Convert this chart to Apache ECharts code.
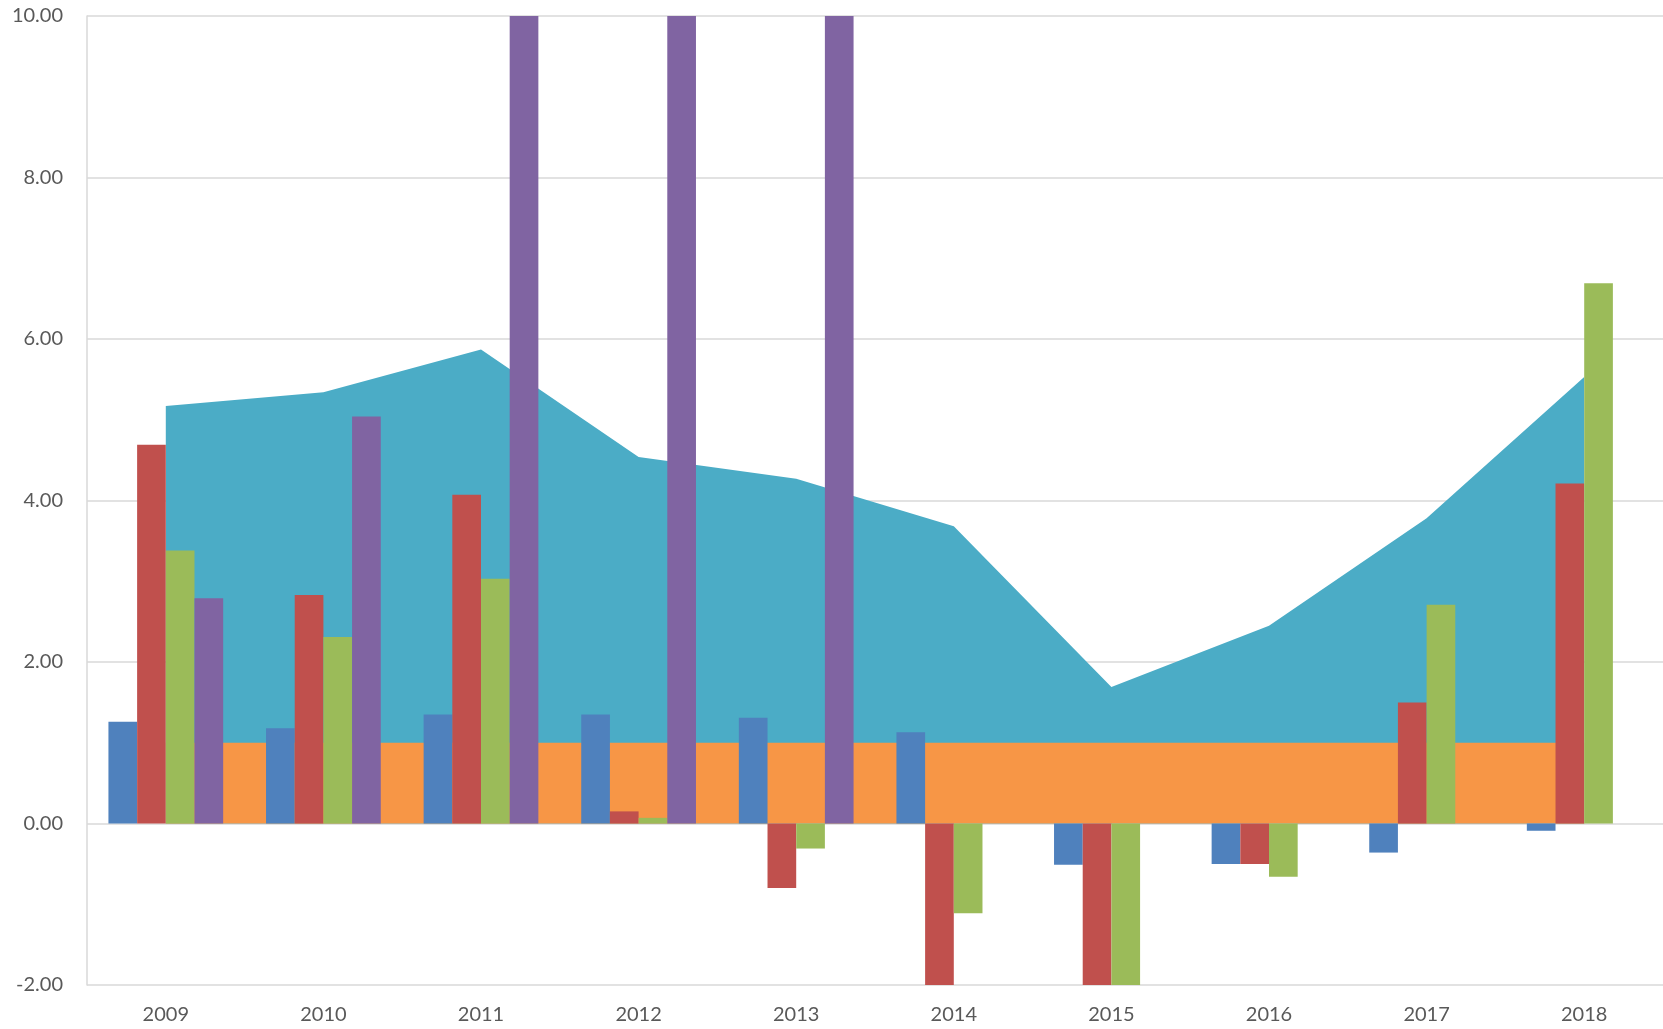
<!DOCTYPE html>
<html>
<head>
<meta charset="utf-8">
<script src="https://cdn.jsdelivr.net/npm/echarts@6/dist/echarts.min.js"></script>
<style>
html,body{margin:0;padding:0;background:#fff;}
#chart{width:1663px;height:1029px;}
</style>
</head>
<body>
<div id="chart"></div>
<script>
var years = ['2009','2010','2011','2012','2013','2014','2015','2016','2017','2018'];
var blueVals   = [1.26, 1.18, 1.35, 1.35, 1.31, 1.13, -0.51, -0.50, -0.36, -0.09];
var redVals    = [4.69, 2.83, 4.07, 0.15, -0.80, -2.04, -2.01, -0.50, 1.50, 4.21];
var greenVals  = [3.38, 2.31, 3.03, 0.07, -0.31, -1.11, -2.04, -0.66, 2.71, 6.69];
var purpleVals = [2.79, 5.04, 12.5, 14.0, 11.8, null, null, null, null, null];
var tealVals   = [5.17, 5.34, 5.87, 4.54, 4.27, 3.68, 1.69, 2.45, 3.78, 5.53];
var orangeVals = [1.00, 1.00, 1.00, 1.00, 1.00, 1.00, 1.00, 1.00, 1.00, 1.00];
var yTicks = { min: -2, max: 10, interval: 2 };

var FONT = 'Lato';
var chart = echarts.init(document.getElementById('chart'), null, {renderer: 'canvas'});

function areaSeries(name, data, color) {
  return {
    name: name, type: 'line', data: data,
    symbol: 'none', showSymbol: false,
    lineStyle: { width: 0, color: color },
    itemStyle: { color: color },
    areaStyle: { color: color, opacity: 1 },
    z: 1, silent: true
  };
}
function barSeries(name, data, color) {
  return {
    name: name, type: 'bar', data: data,
    itemStyle: { color: color },
    barGap: '0%', barCategoryGap: '27.2%',
    clip: true, z: 3
  };
}

chart.setOption({
  animation: false,
  backgroundColor: '#ffffff',
  grid: { left: 87, right: 0, top: 16, bottom: 44, containLabel: false },
  xAxis: {
    type: 'category', data: years, boundaryGap: true,
    axisLine: { show: false },
    axisTick: { show: false },
    splitLine: { show: false },
    axisLabel: { color: '#595959', fontFamily: FONT, fontSize: 20, margin: 20 }
  },
  yAxis: {
    type: 'value', min: yTicks.min, max: yTicks.max, interval: yTicks.interval,
    axisLine: { show: true, lineStyle: { color: '#d9d9d9', width: 1.5 } },
    axisTick: { show: false },
    splitLine: { show: true, lineStyle: { color: '#d9d9d9', width: 1.5 } },
    axisLabel: {
      color: '#595959', fontFamily: FONT, fontSize: 20, margin: 24,
      formatter: function (v) { return v.toFixed(2); }
    }
  },
  series: [
    areaSeries('Teal', tealVals, '#4BACC6'),
    areaSeries('Orange', orangeVals, '#F79646'),
    barSeries('Blue', blueVals, '#4F81BD'),
    barSeries('Red', redVals, '#C0504D'),
    barSeries('Green', greenVals, '#9BBB59'),
    barSeries('Purple', purpleVals, '#8064A2')
  ]
});
</script>
</body>
</html>
